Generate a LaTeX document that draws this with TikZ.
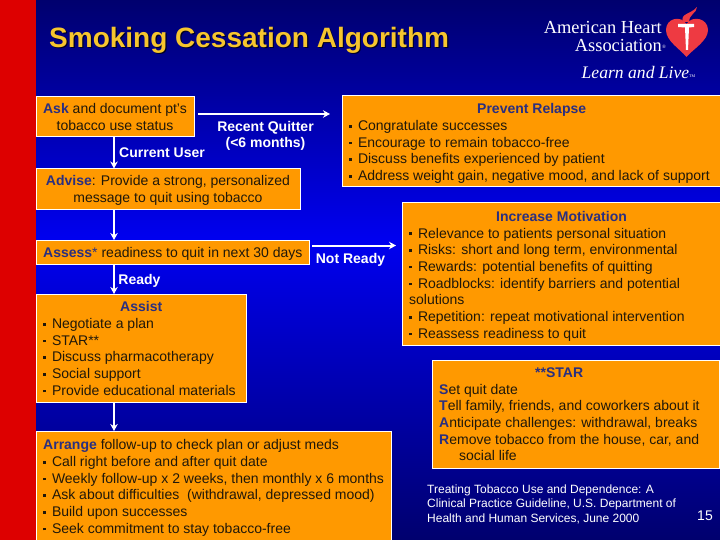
\documentclass[tikz,border=0pt]{standalone}
\usepackage{fontspec}
\setmainfont{Liberation Sans}
\newfontfamily\logofont{Liberation Serif}
\definecolor{orangebox}{HTML}{FF9900}
\definecolor{headblue}{HTML}{2A2F80}
\definecolor{titlegold}{HTML}{F6C52E}
\definecolor{textdark}{HTML}{20180A}
\definecolor{slidered}{HTML}{DD0000}
\definecolor{navy}{HTML}{00006E}
\definecolor{brightblue}{HTML}{0000F0}
\definecolor{heartred}{HTML}{EE3A42}
\newcommand{\bl}{\rule[3pt]{2.6pt}{2.6pt}\hspace{6.2pt}}
\newcommand{\hd}[1]{\textcolor{headblue}{\textbf{#1}}}
\tikzset{
  box/.style={draw=white,line width=1pt,fill=orangebox,anchor=north west,inner sep=0pt,outer sep=0pt},
  body/.style={font=\fontsize{14}{16.7}\selectfont,text=textdark,align=left,anchor=north west,inner sep=0pt},
  lab/.style={font=\fontsize{14}{16.7}\selectfont\bfseries,text=white,align=center,inner sep=0pt},
  flow/.style={draw=white,line width=2pt,-{Stealth[length=7pt,width=7.5pt]}},
}
\usetikzlibrary{arrows.meta}
\begin{document}
\begin{tikzpicture}[x=1pt,y=-1pt]
\useasboundingbox (0,0) rectangle (720,540);
\shade[top color=navy,bottom color=brightblue] (0,0) rectangle (720,240);
\shade[top color=brightblue,bottom color=navy] (0,240) rectangle (720,540);
\fill[slidered] (0,0) rectangle (36,540);
% title
\node[anchor=west,inner sep=0pt,text=black!70!navy,font=\fontsize{28}{30}\selectfont\bfseries] (titleshadow) at (50.2,41.7) {Smoking Cessation Algorithm};
\node[anchor=west,inner sep=0pt,text=titlegold,font=\fontsize{28}{30}\selectfont\bfseries] (title) at (49,40.5) {Smoking Cessation Algorithm};
% logo
\node[anchor=east,inner sep=0pt,text=white,align=right,font=\fontsize{18.4}{18}\logofont] (aha) at (662,36.5) {American Heart\\Association};
\node[anchor=west,inner sep=0pt,text=white,font=\fontsize{2.5}{3}\logofont] (reg) at (662,47) {\fontsize{5}{5}\selectfont ®};
\node[anchor=west,inner sep=0pt,text=white,font=\fontsize{17.6}{18}\logofont\itshape] (live) at (581.5,72) {Learn and Live};
\node[anchor=west,inner sep=0pt,text=white,font=\fontsize{4}{4}\logofont] (tm) at (689,76) {TM};
\fill[heartred] (686.5,57) .. controls (680,49) and (666,41) .. (666,30) .. controls (666,18) and (681,15) .. (686.5,24) .. controls (692,15) and (708,18) .. (708,30) .. controls (708,41) and (693,49) .. (686.5,57) -- cycle;
\fill[heartred] (683,22) .. controls (680,13) and (690,15) .. (697,7) .. controls (697,13) and (688,15) .. (689.5,22) -- cycle;
\fill[white] (678,24) -- (694,24) -- (694,27) -- (689,27.5) -- (688,50) -- (686,50) -- (685,27.5) -- (678,27) -- cycle;
% boxes
\node[box,minimum width=158pt,minimum height=40.5pt] (ask) at (36,96.5) {};
\node[box,minimum width=264pt,minimum height=41pt] (advise) at (36,168.5) {};
\node[box,minimum width=273pt,minimum height=24.5pt] (assess) at (36,240) {};
\node[box,minimum width=210pt,minimum height=108pt] (assist) at (36,294) {};
\node[box,minimum width=355pt,minimum height=112pt] (arrange) at (36,431) {};
\node[box,minimum width=380pt,minimum height=91.5pt] (prevent) at (342,95.5) {};
\node[box,minimum width=320pt,minimum height=142pt] (increase) at (402,203) {};
\node[box,minimum width=287pt,minimum height=108pt] (star) at (432,360) {};
% texts
\node[body,align=center,anchor=north] (asktext) at (115,103.5) {\hd{Ask} and document pt's\\tobacco use status};
\node[body,align=center,anchor=north] (advisetext) at (168,175.5) {\hd{Advise}: Provide a strong, personalized\\message to quit using tobacco};
\node[body,anchor=north west] (assesstext) at (43,247.5) {\hd{Assess}\textcolor{headblue}{*} readiness to quit in next 30 days};
\node[body,anchor=north west] (assisttext) at (43,301.5) {\hspace{77pt}\hd{Assist}\\\bl Negotiate a plan\\\bl STAR**\\\bl Discuss pharmacotherapy\\\bl Social support\\\bl Provide educational materials};
\node[body,anchor=north west] (arrangetext) at (43,439.5) {\hd{Arrange} follow-up to check plan or adjust meds\\\bl Call right before and after quit date\\\bl Weekly follow-up x 2 weeks, then monthly x 6 months\\\bl Ask about difficulties\ \ (withdrawal, depressed mood)\\\bl Build upon successes\\\bl Seek commitment to stay tobacco-free};
\node[body,anchor=north west] (preventtext) at (349,103.5) {\hspace{128pt}\hd{Prevent Relapse}\\\bl Congratulate successes\\\bl Encourage to remain tobacco-free\\\bl Discuss benefits experienced by patient\\\bl Address weight gain, negative mood, and lack of support};
\node[body,anchor=north west] (increasetext) at (409,211) {\hspace{87pt}\hd{Increase Motivation}\\\bl Relevance to patients personal situation\\\bl Risks: short and long term, environmental\\\bl Rewards: potential benefits of quitting\\\bl Roadblocks: identify barriers and potential\\solutions\\\bl Repetition: repeat motivational intervention\\\bl Reassess readiness to quit};
\node[body,anchor=north west] (startext) at (439,367.5) {\hspace{96pt}\hd{**STAR}\\\hd{S}et quit date\\\hd{T}ell family, friends, and coworkers about it\\\hd{A}nticipate challenges: withdrawal, breaks\\\hd{R}emove tobacco from the house, car, and\\\hspace{20pt}social life};
% labels
\node[lab] (recent) at (265.5,136) {Recent Quitter\\(<6 months)};
\node[lab] (current) at (162,153) {Current User};
\node[lab] (notready) at (350.5,259.5) {Not Ready};
\node[lab] (ready) at (139.5,280.5) {Ready};
% source and page
\node[anchor=north west,inner sep=0pt,text=white,align=left,font=\fontsize{12}{14.4}\selectfont] (source) at (427,484.5) {Treating Tobacco Use and Dependence: A\\Clinical Practice Guideline, U.S. Department of\\Health and Human Services, June 2000};
\node[anchor=center,inner sep=0pt,text=white,font=\fontsize{14}{16}\selectfont] (page) at (705,516) {15};
% connectors
\coordinate (askout) at (198,114);
\coordinate (preventin) at (330,114);
\coordinate (assessout) at (312,245.5);
\coordinate (increasein) at (396,245.5);
\draw[flow] (askout) -- (preventin);
\draw[flow] (assessout) -- (increasein);
\draw[flow] (ask.south -| 114,0) -- (advise.north -| 114,0);
\draw[flow] (advise.south -| 114,0) -- (assess.north -| 114,0);
\draw[flow] (assess.south -| 114,0) -- (assist.north -| 114,0);
\draw[flow] (assist.south -| 114,0) -- (arrange.north -| 114,0);
\end{tikzpicture}
\end{document}
